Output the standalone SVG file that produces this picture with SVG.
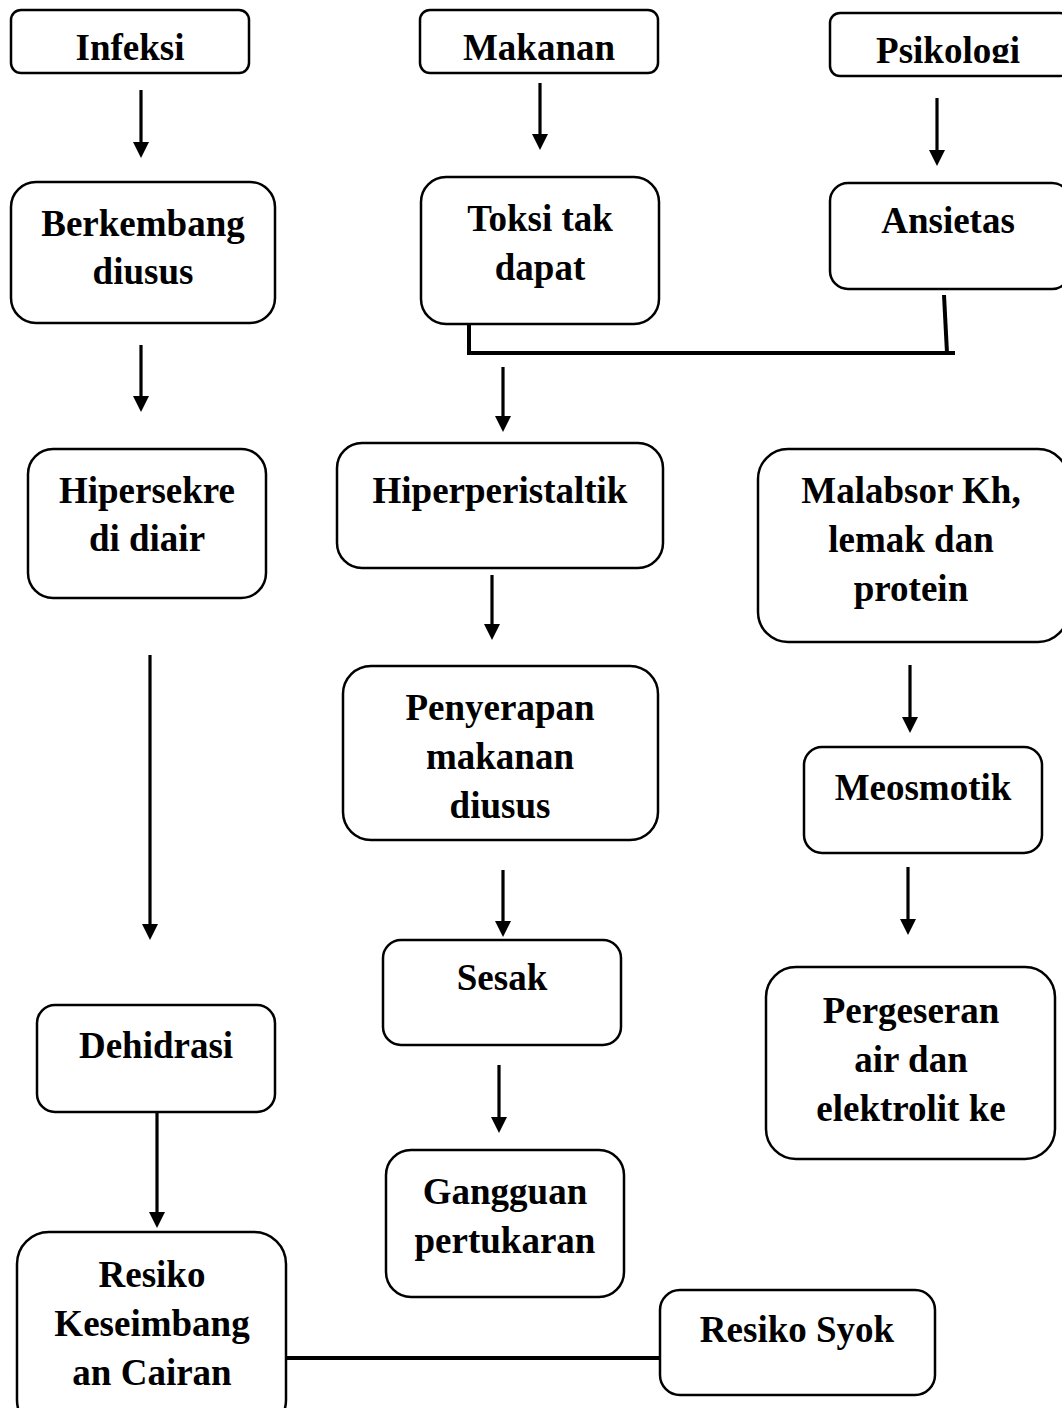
<svg xmlns="http://www.w3.org/2000/svg" width="1062" height="1408" viewBox="0 0 1062 1408">
<style>
.box{fill:#fff;stroke:#000;stroke-width:2.5}
.t{font-family:"Liberation Serif","Times New Roman",serif;font-weight:bold;font-size:37px;fill:#000;text-anchor:middle}
.ar{stroke:#000;stroke-width:3.2;fill:none;marker-end:url(#ah)}
.ln{stroke:#000;stroke-width:4;fill:none}
</style>
<defs>
<marker id="ah" markerUnits="userSpaceOnUse" markerWidth="18" markerHeight="18" refX="8" refY="8" orient="auto">
<path d="M0,0 L16,8 L0,16 z" fill="#000"/>
</marker>
<clipPath id="psiClip"><rect x="830" y="13" width="232" height="50"/></clipPath>
</defs>
<rect width="1062" height="1408" fill="#fff"/>
<g id="connectors">
<line class="ar" x1="141" y1="90" x2="141" y2="150"/>
<line class="ar" x1="540" y1="83" x2="540" y2="142"/>
<line class="ar" x1="937" y1="98" x2="937" y2="158"/>
<line class="ar" x1="141" y1="345" x2="141" y2="404"/>
<polyline class="ln" points="469,324 469,353 955,353"/>
<line class="ln" x1="944" y1="295" x2="947" y2="353"/>
<line class="ar" x1="503" y1="367" x2="503" y2="424"/>
<line class="ar" x1="150" y1="655" x2="150" y2="932"/>
<line class="ar" x1="492" y1="575" x2="492" y2="632"/>
<line class="ar" x1="910" y1="665" x2="910" y2="725"/>
<line class="ar" x1="503" y1="870" x2="503" y2="929"/>
<line class="ar" x1="908" y1="867" x2="908" y2="927"/>
<line class="ar" x1="499" y1="1065" x2="499" y2="1125"/>
<line class="ar" x1="157" y1="1105" x2="157" y2="1220"/>
<line class="ln" x1="286" y1="1358" x2="660" y2="1358"/>
</g>
<g id="infeksi"><rect class="box" x="11" y="10" width="238" height="63" rx="10"/><text class="t" x="130" y="60">Infeksi</text></g>
<g id="makanan"><rect class="box" x="420" y="10" width="238" height="63" rx="10"/><text class="t" x="539" y="60">Makanan</text></g>
<g id="psikologi"><rect class="box" x="830" y="13" width="240" height="63" rx="10"/><text class="t" x="948" y="63" clip-path="url(#psiClip)">Psikologi</text></g>
<g id="berkembang"><rect class="box" x="11" y="182" width="264" height="141" rx="25"/><text class="t" x="143" y="236">Berkembang</text><text class="t" x="143" y="284">diusus</text></g>
<g id="toksi"><rect class="box" x="421" y="177" width="238" height="147" rx="25"/><text class="t" x="540" y="231">Toksi tak</text><text class="t" x="540" y="280">dapat</text></g>
<g id="ansietas"><rect class="box" x="830" y="183" width="240" height="106" rx="18"/><text class="t" x="948" y="233">Ansietas</text></g>
<g id="hipersekre"><rect class="box" x="28" y="449" width="238" height="149" rx="25"/><text class="t" x="147" y="503">Hipersekre</text><text class="t" x="147" y="551">di diair</text></g>
<g id="hiperperistaltik"><rect class="box" x="337" y="443" width="326" height="125" rx="25"/><text class="t" x="500" y="503">Hiperperistaltik</text></g>
<g id="malabsor"><rect class="box" x="758" y="449" width="310" height="193" rx="30"/><text class="t" x="911" y="503">Malabsor Kh,</text><text class="t" x="911" y="552">lemak dan</text><text class="t" x="911" y="601">protein</text></g>
<g id="penyerapan"><rect class="box" x="343" y="666" width="315" height="174" rx="28"/><text class="t" x="500" y="720">Penyerapan</text><text class="t" x="500" y="769">makanan</text><text class="t" x="500" y="818">diusus</text></g>
<g id="meosmotik"><rect class="box" x="804" y="747" width="238" height="106" rx="18"/><text class="t" x="923" y="800">Meosmotik</text></g>
<g id="sesak"><rect class="box" x="383" y="940" width="238" height="105" rx="18"/><text class="t" x="502" y="990">Sesak</text></g>
<g id="pergeseran"><rect class="box" x="766" y="967" width="289" height="192" rx="30"/><text class="t" x="911" y="1023">Pergeseran</text><text class="t" x="911" y="1072">air dan</text><text class="t" x="911" y="1121">elektrolit ke</text></g>
<g id="dehidrasi"><rect class="box" x="37" y="1005" width="238" height="107" rx="18"/><text class="t" x="156" y="1058">Dehidrasi</text></g>
<g id="gangguan"><rect class="box" x="386" y="1150" width="238" height="147" rx="25"/><text class="t" x="505" y="1204">Gangguan</text><text class="t" x="505" y="1253">pertukaran</text></g>
<g id="resiko-keseimbangan"><rect class="box" x="17" y="1232" width="269" height="200" rx="32"/><text class="t" x="152" y="1287">Resiko</text><text class="t" x="152" y="1336">Keseimbang</text><text class="t" x="152" y="1385">an Cairan</text></g>
<g id="resiko-syok"><rect class="box" x="660" y="1290" width="275" height="105" rx="20"/><text class="t" x="797" y="1342">Resiko Syok</text></g>
</svg>
